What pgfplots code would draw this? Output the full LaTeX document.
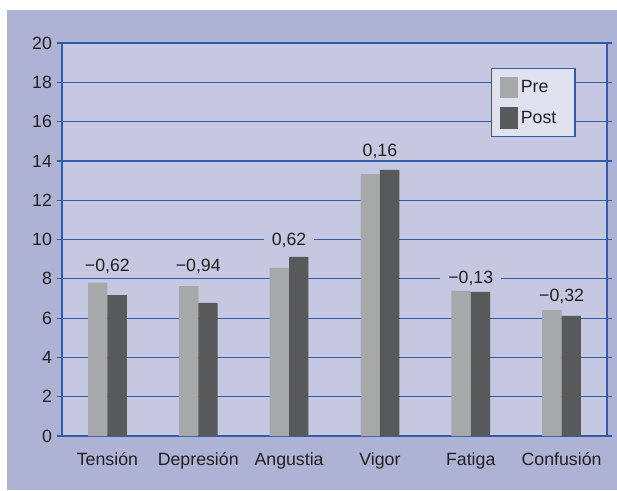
\documentclass[border=0pt]{standalone}
\usepackage{fontspec}
\setmainfont{Liberation Sans}
\usepackage{pgfplots}
\pgfplotsset{compat=1.18}
\definecolor{outerbg}{HTML}{AEB2D4}
\definecolor{plotbg}{HTML}{C5C8E0}
\definecolor{gridblue}{HTML}{2F5DA8}
\definecolor{prec}{HTML}{A7A8AA}
\definecolor{postc}{HTML}{58595B}
\definecolor{legbg}{HTML}{E1E2EF}
\definecolor{txt}{HTML}{231F20}
\newcommand{\lblfont}{\fontsize{13.3}{15}\selectfont}
\begin{document}
\begin{tikzpicture}
\fill[white] (0pt,0pt) rectangle (462.75pt,367.5pt);
\fill[outerbg] (5.25pt,0pt) rectangle (462.75pt,360pt);
\begin{axis}[
  at={(46.5pt,40.5pt)}, anchor=south west,
  scale only axis, width=408.75pt, height=294.75pt,
  ymin=0, ymax=20, ytick={0,2,...,20},
  xmin=-0.5, xmax=5.5, xtick={0,...,5},
  xticklabels={Tensión,Depresión,Angustia,Vigor,Fatiga,Confusión},
  x tick style={draw=none},
  y tick style={gridblue, line width=0.9pt},
  major tick length=4pt, tick align=outside,
  ymajorgrids, grid style={gridblue, line width=0.9pt},
  axis line style={gridblue, line width=0.9pt},
  axis background/.style={fill=plotbg},
  ybar=0pt, bar width=0.213,
  ticklabel style={font=\lblfont, text=txt},
  xticklabel style={yshift=-5pt},
  /pgf/number format/assume math mode=true,
  legend style={at={(0.787,0.936)}, anchor=north west, fill=legbg, draw=gridblue, line width=0.9pt, font=\lblfont, text=txt, row sep=7pt, inner xsep=6pt, inner ysep=6pt},
  legend cell align=left,
  legend image code/.code={\fill[#1, draw=none] (0pt,-8pt) rectangle (14pt,8pt);},
]
\addplot[fill=prec, draw=none] coordinates {(0,7.8) (1,7.63) (2,8.55) (3,13.33) (4,7.38) (5,6.41)};
\addplot[fill=postc, draw=none] coordinates {(0,7.17) (1,6.77) (2,9.12) (3,13.54) (4,7.33) (5,6.11)};
\legend{Pre,Post\hspace*{6pt}\mbox{}}
\node[fill=plotbg, inner xsep=6pt, inner ysep=1pt, font=\lblfont, text=txt] at (axis cs:0,8.65) {−0,62};
\node[fill=plotbg, inner xsep=6pt, inner ysep=1pt, font=\lblfont, text=txt] at (axis cs:1,8.65) {−0,94};
\node[fill=plotbg, inner xsep=6pt, inner ysep=1pt, font=\lblfont, text=txt] at (axis cs:2,9.97) {0,62};
\node[fill=plotbg, inner xsep=6pt, inner ysep=1pt, font=\lblfont, text=txt] at (axis cs:3,14.5) {0,16};
\node[fill=plotbg, inner xsep=6pt, inner ysep=1pt, font=\lblfont, text=txt] at (axis cs:4,8.04) {−0,13};
\node[fill=plotbg, inner xsep=6pt, inner ysep=1pt, font=\lblfont, text=txt] at (axis cs:5,7.12) {−0,32};
\end{axis}
\pgfresetboundingbox
\useasboundingbox (0pt,0pt) rectangle (462.75pt,367.5pt);
\end{tikzpicture}
\end{document}
